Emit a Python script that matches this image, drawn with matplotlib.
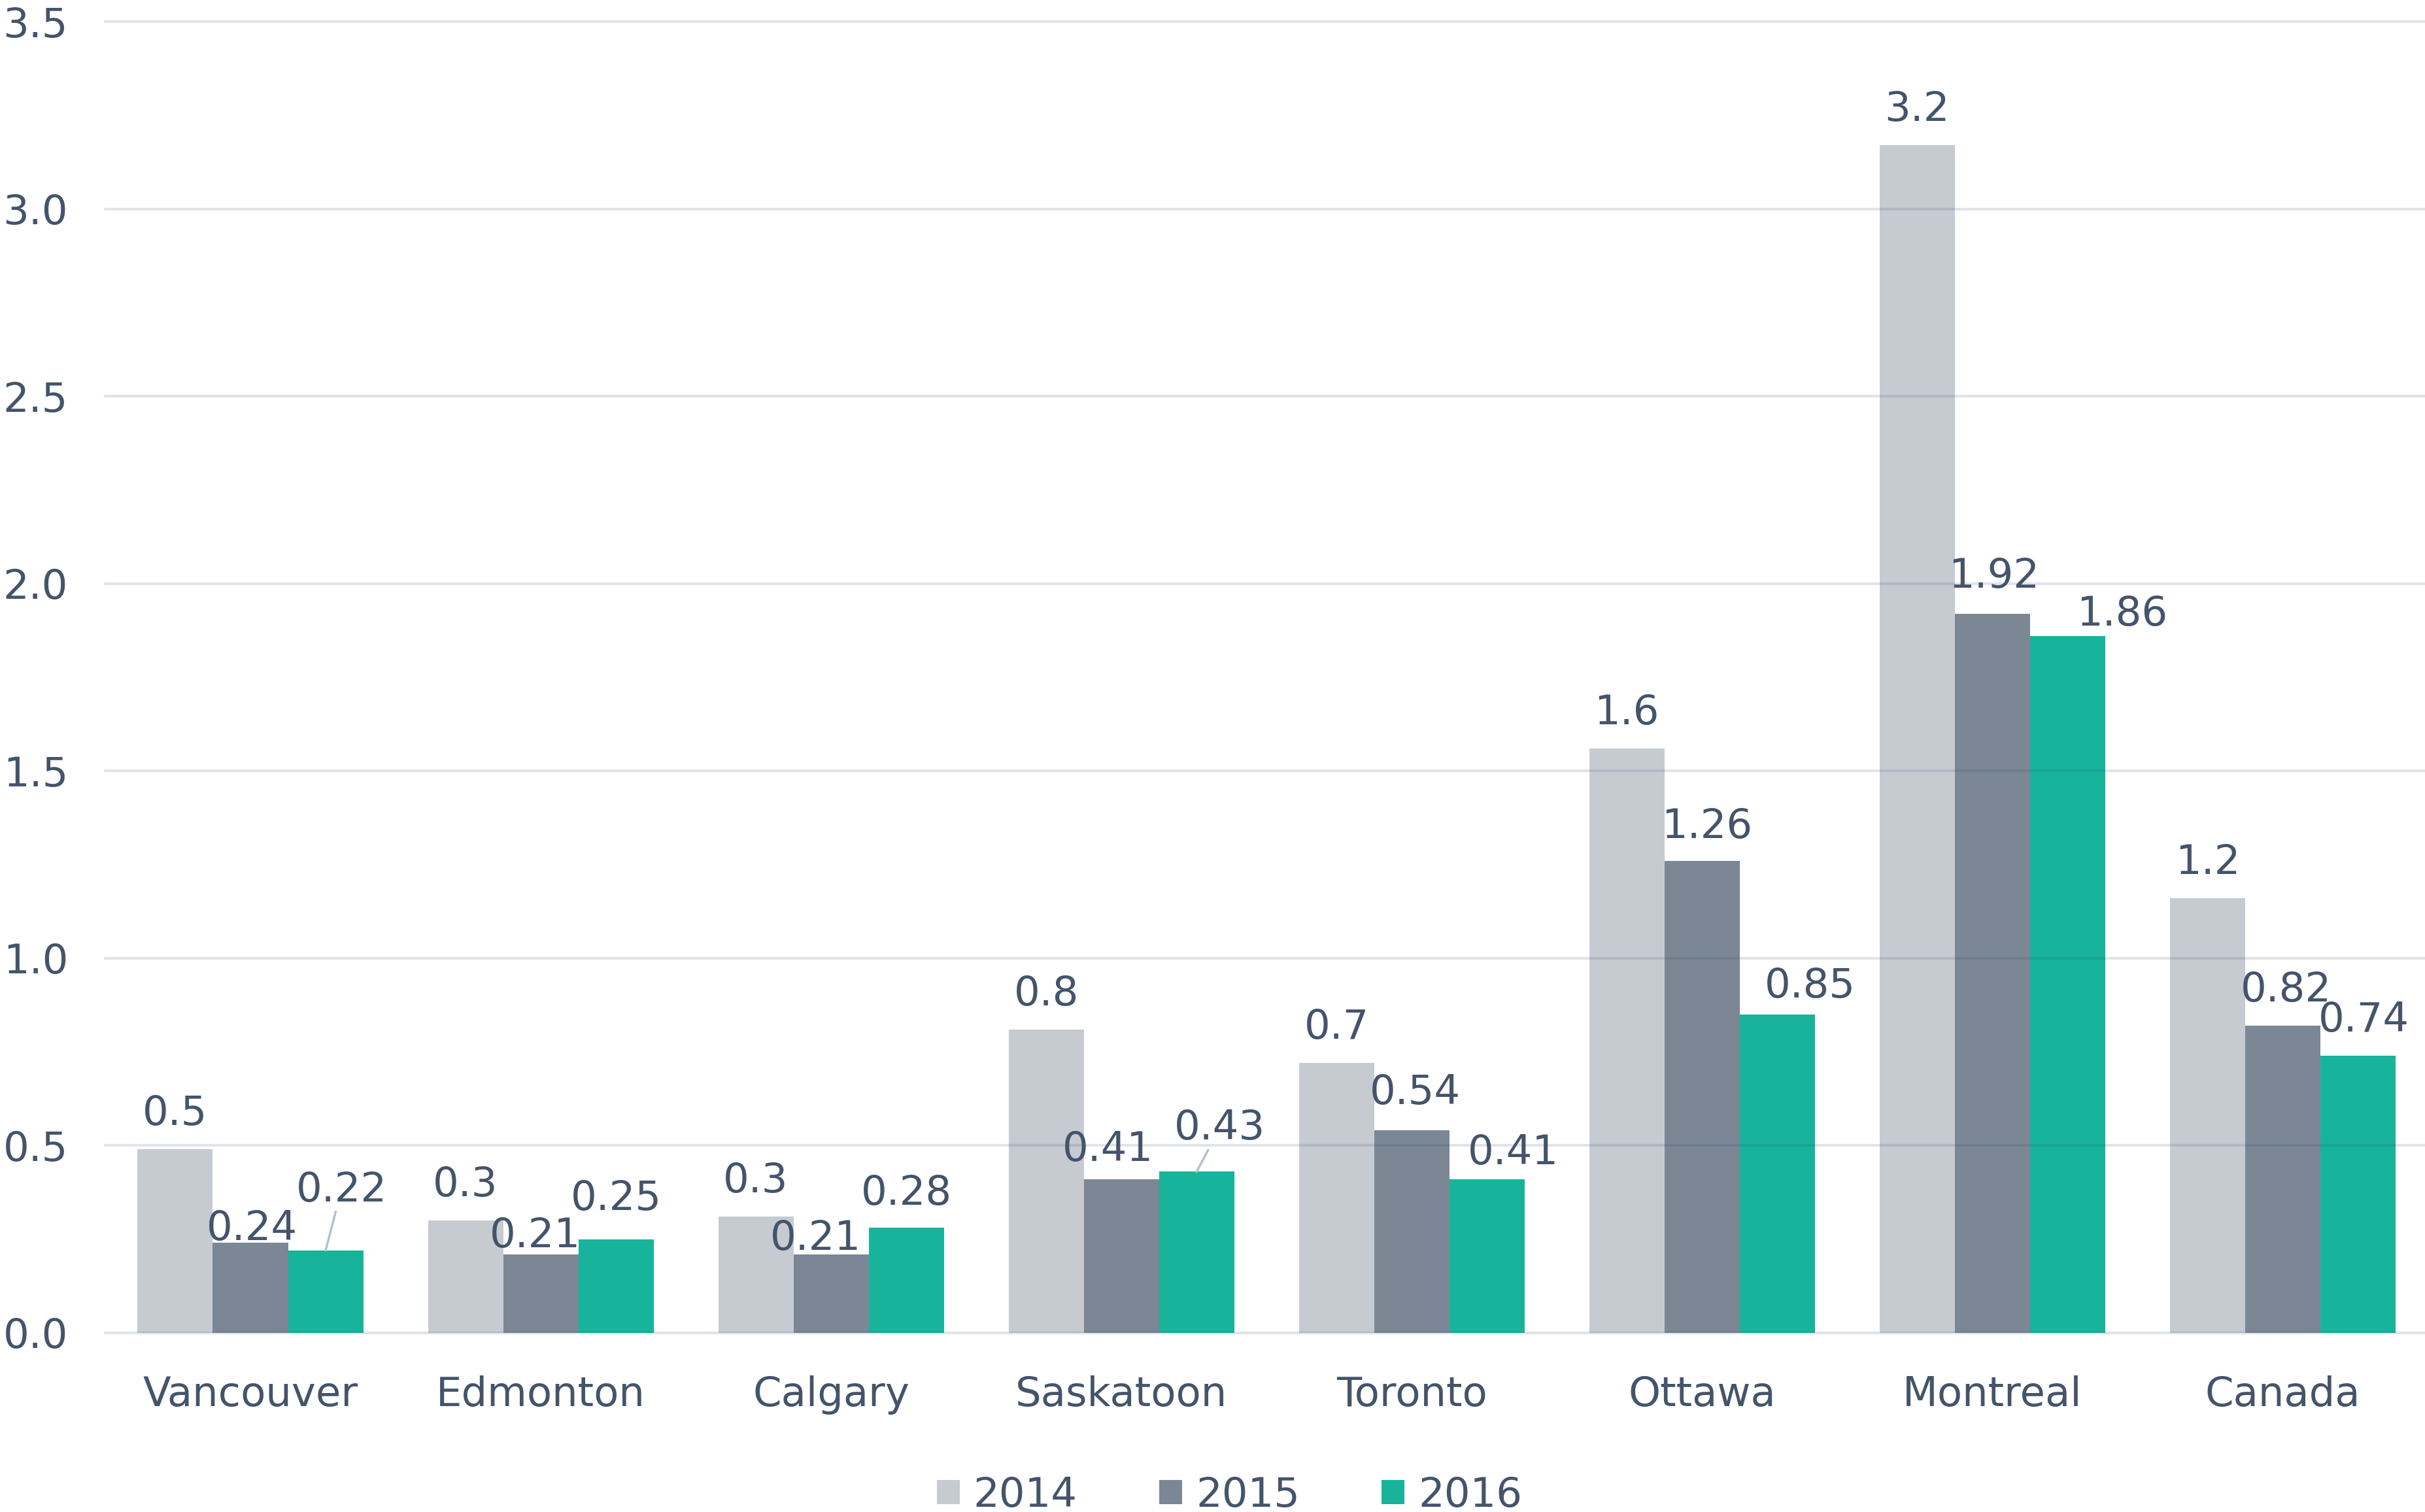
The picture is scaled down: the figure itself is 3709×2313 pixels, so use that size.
import numpy as np
import matplotlib
matplotlib.use("Agg")
import matplotlib.pyplot as plt

# data
cities = ["Vancouver", "Edmonton", "Calgary", "Saskatoon", "Toronto", "Ottawa", "Montreal", "Canada"]
years = ["2014", "2015", "2016"]
v2014 = [0.49, 0.30, 0.31, 0.81, 0.72, 1.56, 3.17, 1.16]
v2015 = [0.24, 0.21, 0.21, 0.41, 0.54, 1.26, 1.92, 0.82]
v2016 = [0.22, 0.25, 0.28, 0.43, 0.41, 0.85, 1.86, 0.74]
yticks = [0.0, 0.5, 1.0, 1.5, 2.0, 2.5, 3.0, 3.5]

colors = ["#c6cbd2", "#7b8794", "#17b49b"]
txt = "#44546a"
fmts = ["{:.1f}", "{:.2f}", "{:.2f}"]

# label offsets (pixels, from bar top centre) - the chart nudged some labels around
off2014 = [(0, 54)] * 8
off2015 = [(2, 21), (-9, 28), (-24, 24), (-21, 45), (5, 57), (7, 52), (2, 57), (5, 54)]
off2016 = [(24, 92), (0, 62), (0, 52), (35, 66), (40, 40), (50, 43), (83, 33), (9, 54)]
leader2016 = [True, False, False, True, False, False, False, False]

plt.rcParams["font.family"] = ["DejaVu Sans"]
fig = plt.figure(figsize=(37.09, 23.13), dpi=100)
ax = fig.add_axes([0.0434, 0.1185, 0.9566, 0.8672])

x = np.arange(len(cities))
w = 0.259
series = [v2014, v2015, v2016]
offs = [off2014, off2015, off2016]

for i, vals in enumerate(series):
    xs = x + (i - 1) * w
    ax.bar(xs, vals, width=w, color=colors[i], label=years[i], zorder=1, linewidth=0)
    for j, v in enumerate(vals):
        dx, dy = offs[i][j]
        lead = (i == 2 and leader2016[j])
        ax.annotate(fmts[i].format(v), xy=(xs[j], v), xytext=(dx, dy),
                    textcoords="offset pixels", ha="center", va="center",
                    fontsize=45, color=txt, zorder=5,
                    arrowprops=dict(arrowstyle="-", color="#b8c0cc", lw=2.5,
                                    shrinkA=0, shrinkB=0) if lead else None)

# gridlines on top of bars, semi transparent
for t in yticks:
    ax.axhline(t, color="#294570", alpha=0.14, lw=3, zorder=3, clip_on=False)

ax.set_xlim(-0.5, 7.49)
ax.set_ylim(0, 3.5)
ax.set_yticks(yticks)
ax.set_yticklabels([f"{t:.1f}" for t in yticks])
ax.set_xticks(x)
ax.set_xticklabels(cities)
ax.tick_params(axis="y", length=0, pad=41, labelsize=45, labelcolor=txt)
ax.tick_params(axis="x", length=0, pad=47, labelsize=45, labelcolor=txt)
for s in ax.spines.values():
    s.set_visible(False)

fig.legend(loc="center", bbox_to_anchor=(0.507, 0.011), ncol=3, frameon=False,
           fontsize=45, labelcolor=txt, handlelength=0.56, handleheight=0.55,
           handletextpad=0.34, columnspacing=2.0, borderpad=0)

fig.savefig("out.png", dpi=100)
